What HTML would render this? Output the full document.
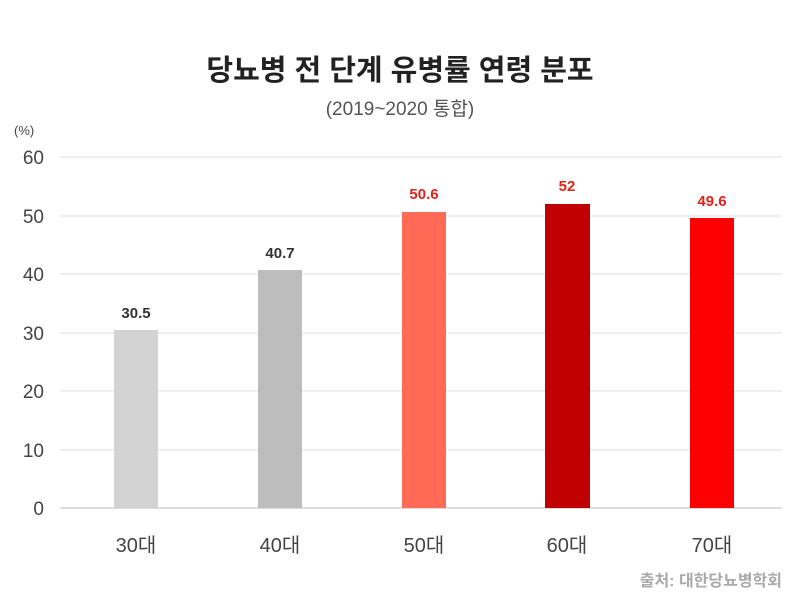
<!DOCTYPE html>
<html><head><meta charset="utf-8"><style>
body{margin:0;background:#fff;}
svg text{font-family:"Liberation Sans","Noto Sans CJK KR",sans-serif;}
</style></head><body>
<svg width="800" height="600" xmlns="http://www.w3.org/2000/svg">
<rect width="800" height="600" fill="#fff"/>
<text x="400" y="80" text-anchor="middle" font-size="29" font-weight="bold" fill="#222">당뇨병 전 단계 유병률 연령 분포</text>
<text x="400" y="115" text-anchor="middle" font-size="19" fill="#555">(2019~2020 통합)</text>
<text x="14" y="135" font-size="13" fill="#444">(%)</text>
<g stroke="#ddd" stroke-width="1">
<line x1="60" x2="782" y1="157" y2="157"/><line x1="60" x2="782" y1="216" y2="216"/>
<line x1="60" x2="782" y1="274" y2="274"/><line x1="60" x2="782" y1="333" y2="333"/>
<line x1="60" x2="782" y1="391" y2="391"/><line x1="60" x2="782" y1="450" y2="450"/>
</g>
<line x1="60" x2="782" y1="508" y2="508" stroke="#bbb"/>
<g font-size="19" fill="#444" text-anchor="end">
<text x="44" y="164">60</text><text x="44" y="223">50</text><text x="44" y="281">40</text>
<text x="44" y="340">30</text><text x="44" y="398">20</text><text x="44" y="457">10</text><text x="44" y="515">0</text>
</g>
<rect x="114" y="330" width="44" height="178" fill="#d3d3d3"/>
<rect x="258" y="270" width="44" height="238" fill="#bdbdbd"/>
<rect x="402" y="212" width="44" height="296" fill="#ff6a57"/>
<rect x="545" y="204" width="45" height="304" fill="#c00000"/>
<rect x="690" y="218" width="44" height="290" fill="#ff0000"/>
<g font-size="15" font-weight="bold" text-anchor="middle">
<text x="136" y="318" fill="#333">30.5</text>
<text x="280" y="258" fill="#333">40.7</text>
<text x="424" y="199" fill="#e0241b">50.6</text>
<text x="567" y="191" fill="#e0241b">52</text>
<text x="712" y="206" fill="#e0241b">49.6</text>
</g>
<g font-size="20" fill="#444" text-anchor="middle">
<text x="136" y="552">30대</text><text x="280" y="552">40대</text><text x="424" y="552">50대</text>
<text x="567" y="552">60대</text><text x="712" y="552">70대</text>
</g>
<text x="782" y="586" text-anchor="end" font-size="16" font-weight="bold" fill="#aaa">출처: 대한당뇨병학회</text>
</svg>
</body></html>
